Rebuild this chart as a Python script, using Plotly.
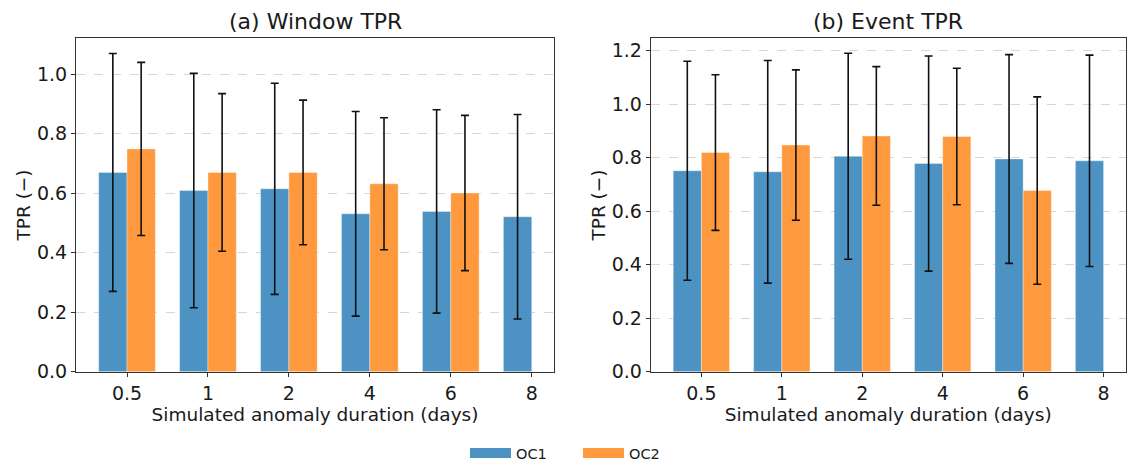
import plotly.graph_objects as go

# ---------------- data ----------------
durations = ["0.5", "1", "2", "4", "6", "8"]

window_oc1_mean = [0.670, 0.609, 0.615, 0.531, 0.539, 0.521]
window_oc1_std = [0.400, 0.394, 0.355, 0.344, 0.342, 0.344]
window_oc2_mean = [0.749, 0.670, 0.670, 0.632, 0.601, None]
window_oc2_std = [0.291, 0.265, 0.243, 0.222, 0.261, None]

event_oc1_mean = [0.751, 0.747, 0.805, 0.778, 0.795, 0.788]
event_oc1_std = [0.409, 0.416, 0.385, 0.402, 0.390, 0.395]
event_oc2_mean = [0.819, 0.847, 0.881, 0.879, 0.677, None]
event_oc2_std = [0.291, 0.281, 0.259, 0.255, 0.350, None]

series_names = ["OC1", "OC2"]
panel_titles = ["(a) Window TPR", "(b) Event TPR"]
x_title = "Simulated anomaly duration (days)"
y_title = "TPR (\u2212)"

# ---------------- style ----------------
W, H = 1136, 469
FONT = "DejaVu Sans, Verdana, sans-serif"
TXT = "#1a1a1a"
C1 = "#4c92c3"
C2 = "#ff993e"
BW = 0.35

idx = list(range(len(durations)))

fig = go.Figure()


def add_panel(means1, std1, means2, std2, xa, ya):
    fig.add_trace(go.Bar(
        x=idx, y=means1, width=BW, offset=-BW, name=series_names[0],
        marker=dict(color=C1, line=dict(color="rgba(255,255,255,0.6)", width=0.6)),
        error_y=dict(type="data", array=std1, visible=True, color="#111111",
                     thickness=1.6, width=4),
        xaxis=xa, yaxis=ya, showlegend=False))
    fig.add_trace(go.Bar(
        x=idx, y=means2, width=BW, offset=0, name=series_names[1],
        marker=dict(color=C2, line=dict(color="rgba(255,255,255,0.6)", width=0.6)),
        error_y=dict(type="data", array=std2, visible=True, color="#111111",
                     thickness=1.6, width=4),
        xaxis=xa, yaxis=ya, showlegend=False))


add_panel(window_oc1_mean, window_oc1_std, window_oc2_mean, window_oc2_std, "x", "y")
add_panel(event_oc1_mean, event_oc1_std, event_oc2_mean, event_oc2_std, "x2", "y2")

# legend proxies (wide patches)
for nm, col in zip(series_names, [C1, C2]):
    fig.add_trace(go.Scatter(x=[None], y=[None], mode="lines", name=nm,
                             line=dict(color=col, width=10), showlegend=True,
                             xaxis="x", yaxis="y"))

y_bot = (H - 371.7) / H
y_top = (H - 38.3) / H
xd1 = [76 / W, 554 / W]
xd2 = [650.7 / W, 1125.7 / W]

common_x = dict(
    tickmode="array", tickvals=idx, ticktext=durations, automargin=False,
    range=[-0.63, 5.275], showline=True, linecolor="#333333", linewidth=1.1,
    mirror=True, ticks="outside", ticklen=4, tickcolor="#333333",
    showgrid=False, zeroline=False,
    tickfont=dict(family=FONT, size=19, color=TXT),
    title=dict(text=x_title, font=dict(family=FONT, size=18.5, color=TXT), standoff=5),
)
common_y = dict(
    dtick=0.2, tick0=0, tickformat=".1f", showline=True, linecolor="#333333",
    linewidth=1.1, mirror=True, ticks="outside", ticklen=4, tickcolor="#333333",
    showgrid=True, gridcolor="#d6d6d6", griddash="dash", gridwidth=1,
    zeroline=False, automargin=False,
    tickfont=dict(family=FONT, size=19, color=TXT),
    title=dict(text=y_title, font=dict(family=FONT, size=18.5, color=TXT), standoff=1),
)

fig.update_layout(
    width=W, height=H,
    margin=dict(l=0, r=0, t=0, b=0),
    paper_bgcolor="white", plot_bgcolor="white",
    barmode="overlay",
    font=dict(family=FONT, color=TXT),
    xaxis=dict(domain=xd1, anchor="y", **common_x),
    yaxis=dict(domain=[y_bot, y_top], anchor="x", range=[0, 1.121], **common_y),
    xaxis2=dict(domain=xd2, anchor="y2", **common_x),
    yaxis2=dict(domain=[y_bot, y_top], anchor="x2", range=[0, 1.246], **common_y),
    legend=dict(orientation="h", x=0.5088, xanchor="center", y=(H - 453) / H,
                yanchor="middle", font=dict(family=FONT, size=14.5, color=TXT),
                itemwidth=41, entrywidth=57, entrywidthmode="pixels",
                bgcolor="rgba(0,0,0,0)"),
    annotations=[
        dict(text=panel_titles[0], x=(xd1[0] + xd1[1]) / 2, y=y_top, xref="paper",
             yref="paper", xanchor="center", yanchor="bottom", yshift=2,
             showarrow=False, font=dict(family=FONT, size=22, color=TXT)),
        dict(text=panel_titles[1], x=(xd2[0] + xd2[1]) / 2, y=y_top, xref="paper",
             yref="paper", xanchor="center", yanchor="bottom", yshift=2,
             showarrow=False, font=dict(family=FONT, size=22, color=TXT)),
    ],
)

fig.write_html("out.html")
